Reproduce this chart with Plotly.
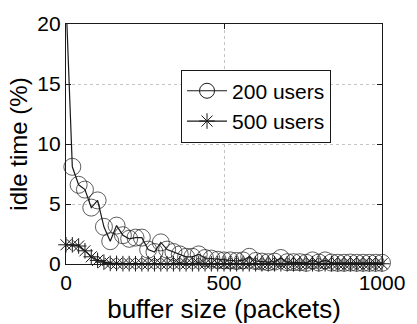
import plotly.graph_objects as go

buffer_size = list(range(0, 1001, 20))

idle_200 = [22.0, 8.1, 6.6, 6.2, 4.7, 5.3, 3.1, 1.9, 3.2, 2.4, 2.1,
            2.2, 2.2, 1.2, 1.0, 1.8, 1.2, 1.0, 0.8, 0.6, 0.6,
            0.8, 0.5, 0.45, 0.35, 0.3, 0.3, 0.25, 0.3, 0.6, 0.25,
            0.2, 0.15, 0.2, 0.5, 0.15, 0.15, 0.15, 0.1, 0.3, 0.12,
            0.3, 0.12, 0.1, 0.1, 0.12, 0.1, 0.1, 0.1, 0.1, 0.1]

idle_500 = [1.6, 1.6, 1.5, 1.1, 0.6, 0.3, 0.15, 0.05, 0.05, 0.03, 0.03,
            0.02, 0.02, 0.02, 0.02, 0.02, 0.02, 0.02, 0.02, 0.02, 0.02,
            0.02, 0.02, 0.02, 0.02, 0.02, 0.02, 0.02, 0.02, 0.02, 0.02,
            0.02, 0.02, 0.02, 0.02, 0.02, 0.02, 0.02, 0.02, 0.02, 0.02,
            0.02, 0.02, 0.02, 0.02, 0.02, 0.02, 0.02, 0.02, 0.02, 0.02]

series_names = ["200 users", "500 users"]
x_ticks = [0, 500, 1000]
y_ticks = [0, 5, 10, 15, 20]

ink = "#1a1a1a"
font_family = "Liberation Sans, Arial, sans-serif"

# hide marker for out-of-range first point of 200-user series
sizes_200 = [0 if v > 20 else 17 for v in idle_200]

fig = go.Figure()
fig.add_trace(go.Scatter(
    x=buffer_size, y=idle_200, mode="lines+markers", showlegend=False,
    line=dict(color=ink, width=1.2),
    marker=dict(symbol="circle-open", size=sizes_200, color=ink, line=dict(width=1)),
    cliponaxis=False))
fig.add_trace(go.Scatter(
    x=buffer_size, y=idle_500, mode="lines+markers", showlegend=False,
    line=dict(color=ink, width=1.2),
    marker=dict(symbol="asterisk-open", size=13, color=ink, line=dict(width=1, color=ink)),
    cliponaxis=False))
# legend entries
fig.add_trace(go.Scatter(
    x=[None], y=[None], mode="lines+markers", name=series_names[0],
    line=dict(color=ink, width=1.2),
    marker=dict(symbol="circle-open", size=15, color=ink, line=dict(width=1))))
fig.add_trace(go.Scatter(
    x=[None], y=[None], mode="lines+markers", name=series_names[1],
    line=dict(color=ink, width=1.2),
    marker=dict(symbol="asterisk-open", size=13, color=ink, line=dict(width=1, color=ink))))

axis_common = dict(
    showline=True, linecolor=ink, linewidth=1.2, mirror="ticks",
    ticks="inside", ticklen=5, tickcolor=ink,
    showgrid=True, gridcolor="#c4c4c4", griddash="dot", gridwidth=1,
    zeroline=False, tickfont=dict(size=21, color="black", family=font_family),
)

fig.update_layout(
    width=417, height=324,
    margin=dict(l=66, r=24, t=20, b=52),
    paper_bgcolor="white", plot_bgcolor="white",
    font=dict(family=font_family, color="black"),
    xaxis=dict(range=[0, 1000], tickvals=x_ticks,
               title=dict(text="buffer size (packets)", font=dict(size=26), standoff=0),
               **axis_common),
    yaxis=dict(range=[0, 20], tickvals=y_ticks,
               title=dict(text="idle time (%)", font=dict(size=24), standoff=2),
               **axis_common),
    legend=dict(x=0.364, y=0.81, xanchor="left", yanchor="top",
                bordercolor=ink, borderwidth=1, bgcolor="white",
                font=dict(size=21, color="black"), itemwidth=40,
                tracegroupgap=0),
)

fig.write_html("out.html")
